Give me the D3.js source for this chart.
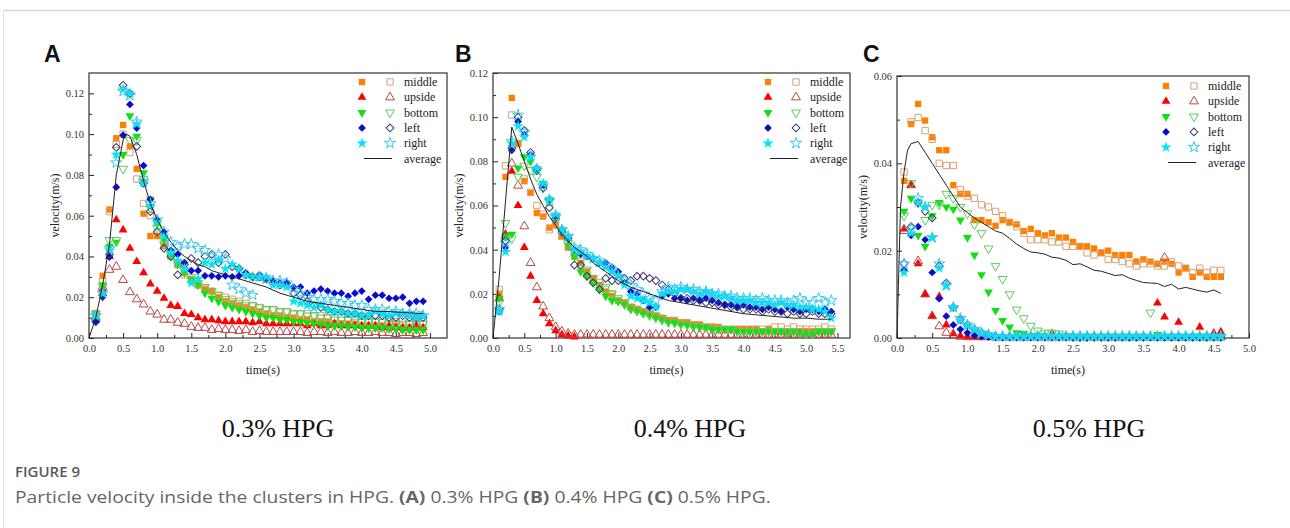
<!DOCTYPE html>
<html><head><meta charset="utf-8">
<script src="https://cdn.jsdelivr.net/npm/d3@7"></script>
<style>body{margin:0;background:#fff}svg{display:block}</style>
</head><body><svg id="c" width="1290" height="528"></svg>
<script>
// ---------------- DATA ----------------
const seriesNames = ["middle","upside","bottom","left","right"];
const xTicksA = [0,0.5,1,1.5,2,2.5,3,3.5,4,4.5,5];
const yTicksA = [0,0.02,0.04,0.06,0.08,0.10,0.12];
const xTicksB = [0,0.5,1,1.5,2,2.5,3,3.5,4,4.5,5,5.5];
const yTicksB = [0,0.02,0.04,0.06,0.08,0.10,0.12];
const xTicksC = [0,0.5,1,1.5,2,2.5,3,3.5,4,4.5,5];
const yTicksC = [0,0.02,0.04,0.06];

const tA = [0.1,0.2,0.3,0.4,0.5,0.6,0.7,0.8,0.9,1.0,
1.1,1.2,1.3,1.4,1.5,1.6,1.7,1.8,1.9,2.0,
2.1,2.2,2.3,2.4,2.5,2.6,2.7,2.8,2.9,3.0,
3.1,3.2,3.3,3.4,3.5,3.6,3.7,3.8,3.9,4.0,
4.1,4.2,4.3,4.4,4.5,4.6,4.7,4.8,4.9];
const A_middle_f = [0.012,0.0305,0.063,0.098,0.1045,0.094,0.083,0.061,0.050,0.050,
0.045,0.041,0.036,0.032,0.029,0.026,0.024,0.023,0.020,0.018,
0.017,0.016,0.015,0.014,0.013,0.012,0.011,0.011,0.010,0.010,
0.009,0.009,0.008,0.008,0.008,0.007,0.007,0.007,0.007,0.006,
0.006,0.006,0.006,0.005,0.006,0.005,0.005,0.005,0.005];
const A_middle_o = [0.012,0.028,0.062,0.095,0.100,0.091,0.078,0.066,0.060,0.052,
0.046,0.040,0.036,0.031,0.028,0.026,0.024,0.023,0.021,0.020,
0.019,0.018,0.017,0.016,0.015,0.014,0.014,0.013,0.013,0.012,
0.012,0.012,0.011,0.011,0.010,0.010,0.010,0.009,0.009,0.009,
0.009,0.008,0.009,0.008,0.008,0.009,0.008,0.009,0.008];
const A_upside_f = [0.010,0.024,0.040,0.058,0.053,0.044,0.0375,0.032,0.0265,0.023,
0.0195,0.016,0.0155,0.012,0.0115,0.010,0.009,0.009,0.0085,0.008,
0.008,0.008,0.008,0.0075,0.008,0.007,0.007,0.007,0.007,0.007,
0.007,0.006,0.007,0.006,0.006,0.007,0.006,0.006,0.006,0.006,
0.006,0.006,0.005,0.006,0.005,0.005,0.005,0.006,0.005];
const A_upside_o = [0.010,0.025,0.0335,0.035,0.0285,0.0225,0.019,0.0165,0.013,0.0115,
0.009,0.009,0.0075,0.007,0.0055,0.005,0.005,0.004,0.0045,0.004,
0.004,0.0035,0.004,0.003,0.0035,0.003,0.003,0.003,0.003,0.003,
0.003,0.0025,0.003,0.003,0.0025,0.003,0.0025,0.0025,0.003,0.0025,
0.0025,0.003,0.0025,0.0025,0.002,0.0025,0.0025,0.002,0.0025];
const A_bottom_f = [0.010,0.026,0.045,0.047,0.090,0.109,0.099,0.081,0.068,0.056,
0.048,0.040,0.036,0.032,0.0285,0.026,0.022,0.0195,0.018,0.016,
0.015,0.014,0.013,0.012,0.011,0.010,0.010,0.009,0.009,0.008,
0.008,0.0075,0.007,0.007,0.006,0.006,0.006,0.0055,0.0055,0.005,
0.005,0.005,0.005,0.0045,0.0045,0.004,0.004,0.004,0.004];
const A_bottom_o = [0.012,0.025,0.048,0.048,0.083,0.097,0.097,0.078,0.064,0.054,
0.046,0.041,0.037,0.033,0.030,0.027,0.025,0.023,0.021,0.019,
0.018,0.017,0.016,0.016,0.015,0.014,0.014,0.013,0.013,0.012,
0.012,0.011,0.011,0.010,0.010,0.009,0.009,0.009,0.008,0.008,
0.008,0.008,0.008,0.007,0.007,0.007,0.007,0.007,0.007];
const A_left_f = [0.008,0.020,0.0397,0.074,0.0995,0.1146,0.103,0.0846,0.068,0.058,
0.052,0.043,0.041,0.037,0.033,0.033,0.0305,0.0305,0.030,0.0305,
0.030,0.0305,0.032,0.030,0.031,0.029,0.028,0.027,0.027,0.025,
0.025,0.022,0.023,0.024,0.023,0.022,0.022,0.0205,0.022,0.023,
0.019,0.021,0.021,0.0195,0.0195,0.020,0.017,0.018,0.018];
const A_left_o = [0.008,0.021,0.041,0.0935,0.124,0.120,0.094,0.076,0.062,0.052,
0.044,0.040,0.031,0.036,0.039,0.037,0.040,0.041,0.037,0.041,
0.035,0.034,0.031,0.030,0.030,0.029,0.027,0.026,0.027,0.022,
0.021,0.018,0.016,0.015,0.014,0.013,0.013,0.012,0.012,0.011,
0.011,0.011,0.011,0.010,0.010,0.011,0.010,0.010,0.010];
const A_right_f = [0.011,0.022,0.043,0.090,0.122,0.120,0.105,0.076,0.065,0.057,
0.050,0.042,0.038,0.034,0.027,0.029,0.037,0.036,0.038,0.034,
0.036,0.034,0.031,0.030,0.030,0.030,0.026,0.026,0.025,0.018,
0.017,0.016,0.015,0.016,0.014,0.013,0.013,0.012,0.012,0.011,
0.011,0.013,0.012,0.011,0.012,0.012,0.011,0.010,0.011];
const A_right_o = [0.011,0.022,0.044,0.086,0.121,0.119,0.106,0.077,0.066,0.058,
0.052,0.047,0.045,0.046,0.046,0.044,0.043,0.040,0.041,0.039,
0.026,0.024,0.022,0.021,0.030,0.029,0.028,0.028,0.027,0.024,
0.022,0.020,0.019,0.019,0.019,0.018,0.017,0.017,0.016,0.016,
0.014,0.014,0.014,0.013,0.013,0.012,0.012,0.012,0.011];
const A_avg_t = [0,0.1,0.2,0.3,0.4,0.5,0.55,0.6,0.7,0.8,0.9,1.0,1.1,1.2,1.3,1.4,1.5,1.6,1.7,1.8,1.9,2.0,2.2,2.4,2.6,2.8,3.0,3.2,3.4,3.6,3.8,4.0,4.2,4.4,4.6,4.9];
const A_avg_v = [0,0.010,0.026,0.046,0.080,0.097,0.100,0.099,0.090,0.077,0.066,0.058,0.052,0.047,0.043,0.040,0.038,0.036,0.035,0.033,0.032,0.031,0.029,0.027,0.025,0.022,0.020,0.018,0.017,0.016,0.015,0.014,0.013,0.013,0.0125,0.012];

const tB = [0.1,0.2,0.3,0.4,0.5,0.6,0.7,0.8,0.9,1.0,
1.1,1.2,1.3,1.4,1.5,1.6,1.7,1.8,1.9,2.0,
2.1,2.2,2.3,2.4,2.5,2.6,2.7,2.8,2.9,3.0,
3.1,3.2,3.3,3.4,3.5,3.6,3.7,3.8,3.9,4.0,
4.1,4.2,4.3,4.4,4.5,4.6,4.7,4.8,4.9,5.0,
5.1,5.2,5.3,5.4];
const B_middle_f = [0.020,0.073,0.1087,0.088,0.071,0.0657,0.0566,0.055,0.050,0.051,
0.046,0.041,0.037,0.034,0.030,0.027,0.024,0.021,0.019,0.017,
0.016,0.014,0.013,0.012,0.011,0.010,0.009,0.008,0.008,0.007,
0.007,0.006,0.006,0.005,0.005,0.005,0.004,0.004,0.004,0.004,
0.004,0.004,0.003,0.004,0.003,0.003,0.003,0.003,0.003,0.003,
0.003,0.003,0.003,0.003];
const B_middle_o = [0.022,0.078,0.101,0.088,0.072,0.066,0.060,0.056,0.049,0.052,
0.046,0.041,0.037,0.033,0.030,0.027,0.025,0.022,0.020,0.017,
0.016,0.014,0.013,0.012,0.012,0.010,0.009,0.008,0.008,0.007,
0.007,0.006,0.006,0.005,0.005,0.004,0.004,0.004,0.004,0.004,
0.004,0.004,0.004,0.004,0.005,0.005,0.004,0.005,0.004,0.004,
0.004,0.004,0.005,0.004];
const B_upside_f = [0.018,0.047,0.0755,0.060,0.041,0.028,0.017,0.011,0.0065,0.0033,
0.0015,0.001,0.0005,null,null,null,null,null,null,null,
null,null,null,null,null,null,null,null,null,null,
null,null,null,null,null,null,null,null,null,null,
null,null,null,null,null,null,null,null,null,null,
null,null,null,null];
const B_upside_o = [0.018,0.046,0.079,0.069,0.0506,0.034,0.023,0.0143,0.009,0.005,
0.003,0.002,0.0015,0.0015,0.0015,0.0015,0.0015,0.0015,0.0015,0.0015,
0.0015,0.0015,0.0015,0.0015,0.0015,0.0015,0.0015,0.0015,0.0015,0.0015,
0.0015,0.0015,0.0015,0.0015,0.0015,0.0015,0.0015,0.0015,0.0015,0.0015,
0.0015,0.0015,0.0015,0.0015,0.0015,0.0015,0.0015,0.0015,0.0015,0.0015,
0.0015,0.0015,0.0015,0.0015];
const B_bottom_f = [0.018,0.046,0.047,0.077,0.082,0.080,0.076,0.070,0.062,0.054,
0.048,0.042,0.037,0.030,0.028,0.025,0.022,0.019,0.017,0.0166,
0.015,0.013,0.012,0.011,0.010,0.009,0.008,0.007,0.007,0.006,
0.006,0.005,0.005,0.005,0.004,0.004,0.004,0.004,0.003,0.003,
0.003,0.003,0.003,0.003,0.003,0.003,0.002,0.003,0.002,0.002,
0.002,0.003,0.003,0.003];
const B_bottom_o = [0.016,0.052,0.045,0.073,0.078,0.076,0.073,0.068,0.062,0.055,
0.049,0.043,0.039,0.035,0.031,0.027,0.024,0.023,0.020,0.018,
0.016,0.014,0.013,0.012,0.011,0.010,0.009,0.008,0.007,0.007,
0.006,0.006,0.005,0.005,0.004,0.004,0.004,0.004,0.003,0.003,
0.003,0.003,0.003,0.003,0.003,0.003,0.003,0.003,0.003,0.002,
0.002,0.003,0.003,0.003];
const B_left_f = [0.012,0.041,0.085,0.098,0.092,0.083,0.077,0.069,0.063,0.055,
0.049,0.046,0.040,0.038,0.037,0.036,0.034,0.034,0.032,0.030,
0.025,0.021,0.020,0.017,0.014,0.014,0.019,0.020,0.018,0.018,
0.017,0.018,0.017,0.018,0.017,0.016,0.015,0.015,0.014,0.015,
0.014,0.014,0.013,0.014,0.013,0.012,0.014,0.013,0.012,0.013,
0.013,0.012,0.013,0.012];
const B_left_o = [0.013,0.044,0.086,0.100,0.094,0.084,0.076,0.068,0.059,0.054,
0.048,0.045,0.033,0.033,0.028,0.025,0.022,0.027,0.026,0.026,
0.027,0.026,0.028,0.028,0.027,0.026,0.024,0.022,0.020,0.018,
0.018,0.017,0.017,0.016,0.016,0.015,0.015,0.014,0.014,0.013,
0.013,0.013,0.012,0.013,0.012,0.012,0.011,0.012,0.011,0.011,
0.012,0.011,0.011,0.011];
const B_right_f = [0.012,0.039,0.088,0.096,0.091,0.082,0.077,0.070,0.063,0.056,
0.049,0.046,0.040,0.039,0.037,0.036,0.034,0.032,0.030,0.028,
0.024,0.019,0.018,0.017,0.016,0.014,0.020,0.021,0.021,0.022,
0.022,0.021,0.020,0.021,0.020,0.019,0.019,0.018,0.017,0.017,
0.017,0.016,0.016,0.016,0.015,0.016,0.015,0.015,0.014,0.014,
0.013,0.013,0.012,0.009];
const B_right_o = [0.013,0.043,0.089,0.101,0.093,0.082,0.076,0.069,0.062,0.055,
0.049,0.046,0.041,0.040,0.038,0.036,0.035,0.033,0.031,0.028,
0.026,0.024,0.022,0.020,0.018,0.017,0.021,0.023,0.022,0.023,
0.022,0.022,0.021,0.021,0.020,0.020,0.019,0.019,0.018,0.018,
0.018,0.017,0.018,0.017,0.017,0.017,0.016,0.017,0.018,0.016,
0.016,0.018,0.016,0.017];
const B_avg_t = [0,0.1,0.2,0.3,0.4,0.5,0.6,0.7,0.8,0.9,1.0,1.1,1.2,1.3,1.4,1.5,1.6,1.7,1.8,1.9,2.0,2.2,2.4,2.6,2.8,3.0,3.2,3.4,3.6,3.8,4.0,4.2,4.4,4.6,4.8,5.0,5.2,5.4];
const B_avg_v = [0,0.028,0.062,0.0955,0.088,0.080,0.072,0.065,0.060,0.055,0.051,0.047,0.044,0.041,0.039,0.037,0.034,0.032,0.030,0.028,0.026,0.023,0.021,0.019,0.017,0.016,0.015,0.014,0.013,0.012,0.011,0.0105,0.010,0.0095,0.009,0.009,0.0085,0.0085];

const tC = [0.1,0.2,0.3,0.4,0.5,0.6,0.7,0.8,0.9,1.0,
1.1,1.2,1.3,1.4,1.5,1.6,1.7,1.8,1.9,2.0,
2.1,2.2,2.3,2.4,2.5,2.6,2.7,2.8,2.9,3.0,
3.1,3.2,3.3,3.4,3.5,3.6,3.7,3.8,3.9,4.0,
4.1,4.2,4.3,4.4,4.5,4.6];
const C_middle_f = [0.036,0.049,0.0536,0.0498,0.046,0.043,0.043,0.035,0.033,0.033,
0.027,0.027,0.0265,0.0257,0.027,0.0265,0.026,0.0245,0.025,0.024,
0.0235,0.024,0.023,0.023,0.022,0.021,0.021,0.0205,0.0195,0.020,
0.019,0.019,0.019,0.0175,0.018,0.0175,0.017,0.0175,0.017,0.015,
0.016,0.014,0.015,0.014,0.014,0.014];
const C_middle_o = [0.038,0.0495,0.0505,0.0475,0.0455,0.040,0.0395,0.0395,0.034,0.0325,
0.032,0.0305,0.030,0.029,0.028,0.0265,0.0255,0.024,0.0225,0.0225,
0.0225,0.022,0.022,0.021,0.021,0.021,0.0195,0.019,0.0195,0.018,
0.018,0.0175,0.017,0.0165,0.017,0.017,0.0165,0.0165,0.0175,0.0165,
0.016,0.015,0.016,0.015,0.0155,0.0155];
const C_upside_f = [0.025,0.035,0.017,0.010,0.005,0.0095,0.003,0.001,0.0005,0.0003,
0.0002,0.0002,0.0002,0.0002,0.0002,0.0002,0.0002,0.0002,0.0002,0.0002,
0.0002,0.001,0.0002,0.0002,0.0002,0.0002,0.0002,0.0002,0.0002,0.0002,
0.0002,0.0002,0.0002,0.0002,0.0002,0.0002,0.008,0.0048,0.0002,0.0036,
0.0002,0.0002,0.0025,0.0002,0.0011,0.0014];
const C_upside_o = [0.0245,0.035,0.0176,0.010,0.005,0.0027,0.0012,0.0005,0.0003,0.0002,
0.0002,0.0002,0.0002,0.0002,0.0002,0.0002,0.0002,0.0002,0.0002,0.0002,
0.0002,0.0002,0.0002,0.0002,0.0002,0.0002,0.0002,0.0002,0.0002,0.0002,
0.0002,0.0002,0.0002,0.0002,0.0002,0.0002,0.0002,0.0184,0.0002,0.0002,
0.0002,0.0002,0.0002,0.0002,0.0002,0.0002];
const C_bottom_f = [0.029,0.032,0.0235,0.021,0.028,0.031,0.030,0.0295,0.027,0.023,
0.019,0.0145,0.0105,0.0063,0.004,0.0025,0.0012,0.001,0.0005,0.0005,
0.0003,0.0003,0.0003,0.0003,0.0003,0.0003,0.0003,0.0003,0.0003,0.0003,
0.0003,0.0003,0.0003,0.0003,0.0003,0.0003,0.0008,0.0003,0.0003,0.0003,
0.0003,0.0003,0.0003,0.0003,0.0003,0.0003];
const C_bottom_o = [0.028,0.0355,0.031,0.027,0.0305,0.0305,0.033,0.032,0.030,0.0285,
0.026,0.024,0.0205,0.0165,0.0135,0.010,0.0065,0.0045,0.0028,0.0017,
0.0012,0.0012,0.0010,0.0005,0.0003,0.0003,0.0003,0.0003,0.0003,0.0003,
0.0003,0.0003,0.0003,0.0003,0.0003,0.0058,0.0003,0.0003,0.0003,0.0003,
0.0003,0.0003,0.0003,0.0003,0.0003,0.0003];
const C_left_f = [0.0155,0.0235,0.0255,0.0225,0.015,0.009,0.005,0.003,0.002,0.0012,
0.0006,0.0003,0.0002,0.0001,0.0001,0.0001,0.0001,0.0001,0.0001,0.0001,
0.0001,0.0001,0.0001,0.0001,0.0001,0.0001,0.0001,0.0001,0.0001,0.0001,
0.0001,0.0001,0.0001,0.0001,0.0001,0.0001,0.0001,0.0001,0.0001,0.0001,
0.0001,0.0001,0.0001,0.0001,0.0001,0.0001];
const C_left_o = [0.017,0.0255,0.031,0.029,0.0275,0.0165,0.0126,0.007,0.0042,0.003,
0.002,0.0012,0.0008,0.0004,0.0003,0.0003,0.0003,0.0003,0.0003,0.0003,
0.0003,0.0003,0.0003,0.0003,0.0003,0.0003,0.0003,0.0003,0.0003,0.0003,
0.0003,0.0003,0.0003,0.0003,0.0003,0.0003,0.0003,0.0003,0.0003,0.0003,
0.0003,0.0003,0.0003,0.0003,0.0003,0.0003];
const C_right_f = [0.015,0.024,0.031,0.030,0.023,0.016,0.012,0.007,0.004,0.0028,
0.0018,0.001,0.0006,0.0003,0.0003,0.0003,0.0003,0.0003,0.0003,0.0003,
0.0003,0.0003,0.0003,0.0003,0.0003,0.0003,0.0003,0.0003,0.0003,0.0003,
0.0003,0.0003,0.0003,0.0003,0.0003,0.0003,0.0003,0.0003,0.0003,0.0003,
0.0003,0.0003,0.0003,0.0003,0.0003,0.0003];
const C_right_o = [0.017,0.025,0.032,0.030,0.023,0.017,0.012,0.007,0.0045,0.003,
0.002,0.0012,0.0008,0.0004,0.0004,0.0004,0.0004,0.0004,0.0004,0.0004,
0.0004,0.0004,0.0004,0.0004,0.0004,0.0004,0.0004,0.0004,0.0004,0.0004,
0.0004,0.0004,0.0004,0.0004,0.0004,0.0004,0.0004,0.0004,0.0004,0.0004,
0.0004,0.0004,0.0004,0.0004,0.0004,0.0004];
const C_avg_t = [0,0.02,0.05,0.1,0.15,0.2,0.3,0.4,0.5,0.6,0.7,0.8,0.9,1.0,1.1,1.2,1.3,1.4,1.5,1.6,1.7,1.8,1.9,2.0,2.1,2.2,2.3,2.4,2.5,2.6,2.7,2.8,2.9,3.0,3.1,3.2,3.3,3.4,3.5,3.6,3.7,3.8,3.9,4.0,4.1,4.2,4.3,4.4,4.5,4.6];
const C_avg_v = [0,0.012,0.030,0.038,0.043,0.0445,0.045,0.0425,0.040,0.0375,0.035,0.0325,0.030,0.0287,0.0275,0.0265,0.0255,0.0245,0.024,0.0228,0.0215,0.0205,0.0197,0.0195,0.0192,0.0185,0.0183,0.0178,0.0168,0.0170,0.0163,0.0155,0.0153,0.0148,0.0143,0.0145,0.0137,0.0132,0.0127,0.0126,0.0125,0.0118,0.0123,0.0112,0.0116,0.0112,0.0108,0.0105,0.0110,0.0102];

const subtitles = ["0.3% HPG","0.4% HPG","0.5% HPG"];
const panelLetters = ["A","B","C"];

// ---------------- STYLE / LAYOUT ----------------
const filledColors = {middle:"#ff7f00", upside:"#ff0000", bottom:"#10e010", left:"#0a0ad0", right:"#00e4f4"};
const openColors   = {middle:"#dca070", upside:"#b84848", bottom:"#5ccc5c", left:"#3a3a70", right:"#38c8f0"};
const serif = "'Liberation Serif','Times New Roman',serif";

const panels = [
 {letter:panelLetters[0], sub:subtitles[0], t:tA, avgT:A_avg_t, avgV:A_avg_v,
  f:[A_middle_f,A_upside_f,A_bottom_f,A_left_f,A_right_f],
  o:[A_middle_o,A_upside_o,A_bottom_o,A_left_o,A_right_o],
  xT:xTicksA, yT:yTicksA, xMax:5.25, yMax:0.13,
  L:89, R:447, T:73, B:338, legX:362, legY:82, letterX:44, subX:278},
 {letter:panelLetters[1], sub:subtitles[1], t:tB, avgT:B_avg_t, avgV:B_avg_v,
  f:[B_middle_f,B_upside_f,B_bottom_f,B_left_f,B_right_f],
  o:[B_middle_o,B_upside_o,B_bottom_o,B_left_o,B_right_o],
  xT:xTicksB, yT:yTicksB, xMax:5.7, yMax:0.12,
  L:493, R:850, T:73, B:338, legX:768, legY:82, letterX:455, subX:690},
 {letter:panelLetters[2], sub:subtitles[2], t:tC, avgT:C_avg_t, avgV:C_avg_v,
  f:[C_middle_f,C_upside_f,C_bottom_f,C_left_f,C_right_f],
  o:[C_middle_o,C_upside_o,C_bottom_o,C_left_o,C_right_o],
  xT:xTicksC, yT:yTicksC, xMax:5.0, yMax:0.06,
  L:897, R:1249, T:76, B:338, legX:1166, legY:86, letterX:863, subX:1089}
];

const svg = d3.select("#c");

// card border
svg.append("line").attr("x1",3).attr("x2",1290).attr("y1",10.5).attr("y2",10.5).attr("stroke","#d4d4d4").attr("stroke-width",1.5);
svg.append("line").attr("x1",3.5).attr("x2",3.5).attr("y1",10).attr("y2",528).attr("stroke","#e2e2e2").attr("stroke-width",1);

function symPath(name){
  if(name==="middle") return d3.symbol(d3.symbolSquare, 40)();
  if(name==="upside") return d3.symbol(d3.symbolTriangle, 34)();
  if(name==="bottom") return d3.symbol(d3.symbolTriangle, 34)();
  if(name==="left")   return d3.symbol(d3.symbolSquare, 30)();
  return d3.symbol(d3.symbolStar, 38)();
}
function symRot(name){ return name==="bottom"?180:(name==="left"?45:0); }

function drawSym(g, name, x, y, filled){
  g.append("path").attr("d", symPath(name))
   .attr("transform",`translate(${x},${y}) rotate(${symRot(name)})`)
   .attr("fill", filled?filledColors[name]:"none")
   .attr("stroke", filled?"none":openColors[name])
   .attr("stroke-width", 1);
}

panels.forEach(p=>{
  const x = d3.scaleLinear().domain([0,p.xMax]).range([p.L,p.R]);
  const y = d3.scaleLinear().domain([0,p.yMax]).range([p.B,p.T]);
  const g = svg.append("g");

  svg.append("text").attr("x",p.letterX).attr("y",62).text(p.letter)
    .attr("font-family","'Liberation Sans',Arial,sans-serif").attr("font-weight","bold")
    .attr("font-size",23).attr("fill","#111");

  const xMinor = d3.range(0.25, p.xMax, 0.5);
  const yStep = p.yT[1]-p.yT[0];
  const yMinor = d3.range(yStep/2, p.yMax, yStep);
  const ax = g.append("g").attr("transform",`translate(0,${p.B})`)
    .call(d3.axisBottom(x).tickValues(p.xT).tickSize(-5).tickPadding(7).tickFormat(d3.format(".1f")));
  const axm = g.append("g").attr("transform",`translate(0,${p.B})`)
    .call(d3.axisBottom(x).tickValues(xMinor).tickSize(-3).tickFormat(""));
  const ay = g.append("g").attr("transform",`translate(${p.L},0)`)
    .call(d3.axisLeft(y).tickValues(p.yT).tickSize(-5).tickPadding(5).tickFormat(d3.format(".2f")));
  const aym = g.append("g").attr("transform",`translate(${p.L},0)`)
    .call(d3.axisLeft(y).tickValues(yMinor).tickSize(-3).tickFormat(""));
  [ax,axm,ay,aym].forEach(a=>{
    a.select(".domain").remove();
    a.selectAll("line").attr("stroke","#222");
    a.selectAll("text").attr("font-family",serif).attr("font-size",10.5).attr("fill","#333");
  });

  g.append("rect").attr("x",p.L).attr("y",p.T).attr("width",p.R-p.L).attr("height",p.B-p.T)
   .attr("fill","none").attr("stroke","#333").attr("stroke-width",1.2);

  g.append("text").attr("transform",`translate(${p.L-33},${(p.T+p.B)/2}) rotate(-90)`)
   .attr("text-anchor","middle").attr("dominant-baseline","middle")
   .attr("font-family",serif).attr("font-size",12).attr("fill","#222").text("velocity(m/s)");
  g.append("text").attr("x",(p.L+p.R)/2 - 5).attr("y",374).attr("text-anchor","middle")
   .attr("font-family",serif).attr("font-size",12).attr("fill","#222").text("time(s)");

  const marks = g.append("g");
  seriesNames.forEach((name,i)=>{
    p.f[i].forEach((v,j)=>{ if(v!==null) drawSym(marks,name,x(p.t[j]),y(v),true); });
    p.o[i].forEach((v,j)=>{ if(v!==null) drawSym(marks,name,x(p.t[j]),y(v),false); });
  });

  const line = d3.line().x((d,i)=>x(p.avgT[i])).y(d=>y(d));
  g.append("path").datum(p.avgV).attr("d",line).attr("fill","none")
   .attr("stroke","#222").attr("stroke-width",1);

  const lg = g.append("g");
  const rowH = 15.3;
  seriesNames.forEach((name,i)=>{
    const yy = p.legY + i*rowH;
    drawSym(lg,name,p.legX,yy,true);
    drawSym(lg,name,p.legX+28,yy,false);
    lg.append("text").attr("x",p.legX+42).attr("y",yy+4).text(name)
      .attr("font-family",serif).attr("font-size",12).attr("fill","#222");
  });
  const yy = p.legY + 5*rowH;
  lg.append("line").attr("x1",p.legX+2).attr("x2",p.legX+30).attr("y1",yy).attr("y2",yy)
    .attr("stroke","#222").attr("stroke-width",1);
  lg.append("text").attr("x",p.legX+42).attr("y",yy+4).text("average")
    .attr("font-family",serif).attr("font-size",12).attr("fill","#222");

  svg.append("text").attr("x",p.subX).attr("y",437).attr("text-anchor","middle")
    .attr("font-family",serif).attr("font-size",26).attr("fill","#111").text(p.sub);
});

// caption
svg.append("text").attr("x",15).attr("y",477).text("FIGURE 9")
  .attr("font-family","'Open Sans','Noto Sans',sans-serif").attr("font-size",15)
  .attr("font-weight",600).attr("fill","#5a5a5a");
const cap = svg.append("text").attr("x",0).attr("y",0)
  .attr("font-family","'Open Sans','Noto Sans',sans-serif").attr("font-size",16).attr("fill","#666");
const capParts = [["Particle velocity inside the clusters in HPG. ",false],["(A)",true],[" 0.3% HPG ",false],["(B)",true],[" 0.4% HPG ",false],["(C)",true],[" 0.5% HPG.",false]];
capParts.forEach(([s,b])=>cap.append("tspan").text(s).attr("font-weight",b?700:400));
const capW = cap.node().getComputedTextLength();
cap.attr("transform",`translate(15,503) scale(${756/capW},1)`);
</script></body></html>
